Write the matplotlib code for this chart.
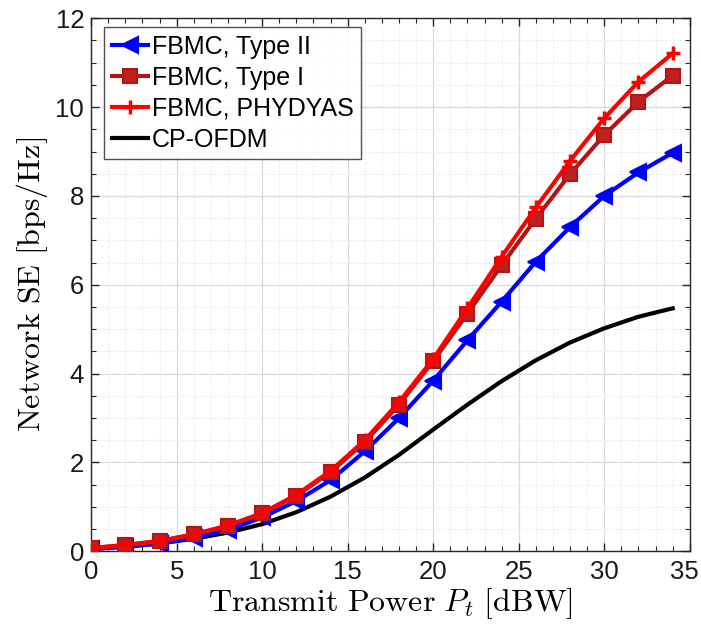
import matplotlib
matplotlib.use("Agg")
import matplotlib.pyplot as plt
from matplotlib.ticker import MultipleLocator, FuncFormatter

plt.rcParams['mathtext.fontset'] = 'cm'
plt.rcParams['font.family'] = ['Liberation Sans', 'DejaVu Sans']

power = [0, 2, 4, 6, 8, 10, 12, 14, 16, 18, 20, 22, 24, 26, 28, 30, 32, 34]
fbmc_type2 = [0.05, 0.10, 0.17, 0.30, 0.48, 0.76, 1.13, 1.60, 2.25, 3.00, 3.84, 4.75, 5.62, 6.52, 7.30, 8.00, 8.53, 8.97]
fbmc_type1 = [0.07, 0.14, 0.23, 0.38, 0.57, 0.85, 1.25, 1.78, 2.46, 3.30, 4.28, 5.35, 6.44, 7.49, 8.49, 9.37, 10.12, 10.71]
fbmc_phydyas = [0.07, 0.14, 0.23, 0.38, 0.58, 0.86, 1.27, 1.81, 2.50, 3.36, 4.33, 5.47, 6.63, 7.74, 8.79, 9.75, 10.57, 11.21]
cp_ofdm = [0.05, 0.11, 0.18, 0.28, 0.42, 0.61, 0.88, 1.23, 1.66, 2.17, 2.74, 3.30, 3.83, 4.30, 4.70, 5.02, 5.28, 5.47]

x_max = 35

fig = plt.figure(figsize=(7.01, 6.30), dpi=100)
ax = fig.add_axes([0.130, 0.125, 0.854, 0.846])

lw = 3.0
lc, = ax.plot(power, cp_ofdm, color='black', lw=lw, label='CP-OFDM', zorder=2)
l2, = ax.plot(power, fbmc_type2, color=(0, 0, 1), lw=lw, marker='<', ms=12, mew=1.5,
              label='FBMC, Type II', zorder=3)
l1, = ax.plot(power, fbmc_type1, color=(0.70, 0.08, 0.08), lw=lw, marker='s', ms=9.5, mew=1.5,
              markerfacecolor=(0.75, 0.12, 0.12), label='FBMC, Type I', zorder=4)
l0, = ax.plot(power, fbmc_phydyas, color=(1, 0, 0), lw=lw, marker='+', ms=10, mew=2.5,
              label='FBMC, PHYDYAS', zorder=5)

ax.set_xlim(0, x_max)
ax.set_ylim(0, 12)
ax.xaxis.set_major_locator(MultipleLocator(5))
ax.xaxis.set_minor_locator(MultipleLocator(1))
ax.yaxis.set_major_locator(MultipleLocator(2))
ax.yaxis.set_minor_locator(MultipleLocator(0.5))
ax.xaxis.set_major_formatter(FuncFormatter(lambda v, p: '' if abs(v - x_max) < 1e-9 else f'{v:g}'))

ax.grid(which='major', color='#d9d9d9', lw=0.9, ls='-')
ax.grid(which='minor', color='#e3e3e3', lw=0.8, ls=':')
ax.set_axisbelow(True)

tick_fs = 18.5
ax.tick_params(which='both', direction='in', top=True, right=True, colors='#262626',
               labelcolor='#1a1a1a', labelsize=tick_fs)
ax.tick_params(which='major', length=6, width=1.0)
ax.tick_params(which='minor', length=3.5, width=0.8)
ax.tick_params(axis='x', which='major', pad=6)
ax.tick_params(axis='y', which='major', pad=5)
for s in ax.spines.values():
    s.set_color('#262626')
    s.set_linewidth(1.0)

# last x tick label, nudged left so it stays inside the figure (as in the reference)
ax.annotate(f'{x_max:g}', xy=(x_max, 0), xycoords=('data', 'axes fraction'),
            xytext=(-4, -6), textcoords='offset points', ha='center', va='top',
            fontsize=tick_fs, color='#1a1a1a')

ax.set_xlabel(r'$\mathrm{Transmit\ Power\ }P_t\mathrm{\ [dBW]}$', fontsize=23, labelpad=2)
ax.set_ylabel(r'$\mathrm{Network\ SE\ [bps/Hz]}$', fontsize=23, labelpad=4)

leg = ax.legend(handles=[l2, l1, l0, lc], loc='upper left', bbox_to_anchor=(0.022, 0.983),
                fontsize=18, frameon=True, fancybox=False, edgecolor='#262626',
                handlelength=1.45, handletextpad=0.15, borderpad=0.3, labelspacing=0.28,
                borderaxespad=0.0)
leg.get_frame().set_linewidth(1.0)

fig.savefig('out.png', dpi=100)
